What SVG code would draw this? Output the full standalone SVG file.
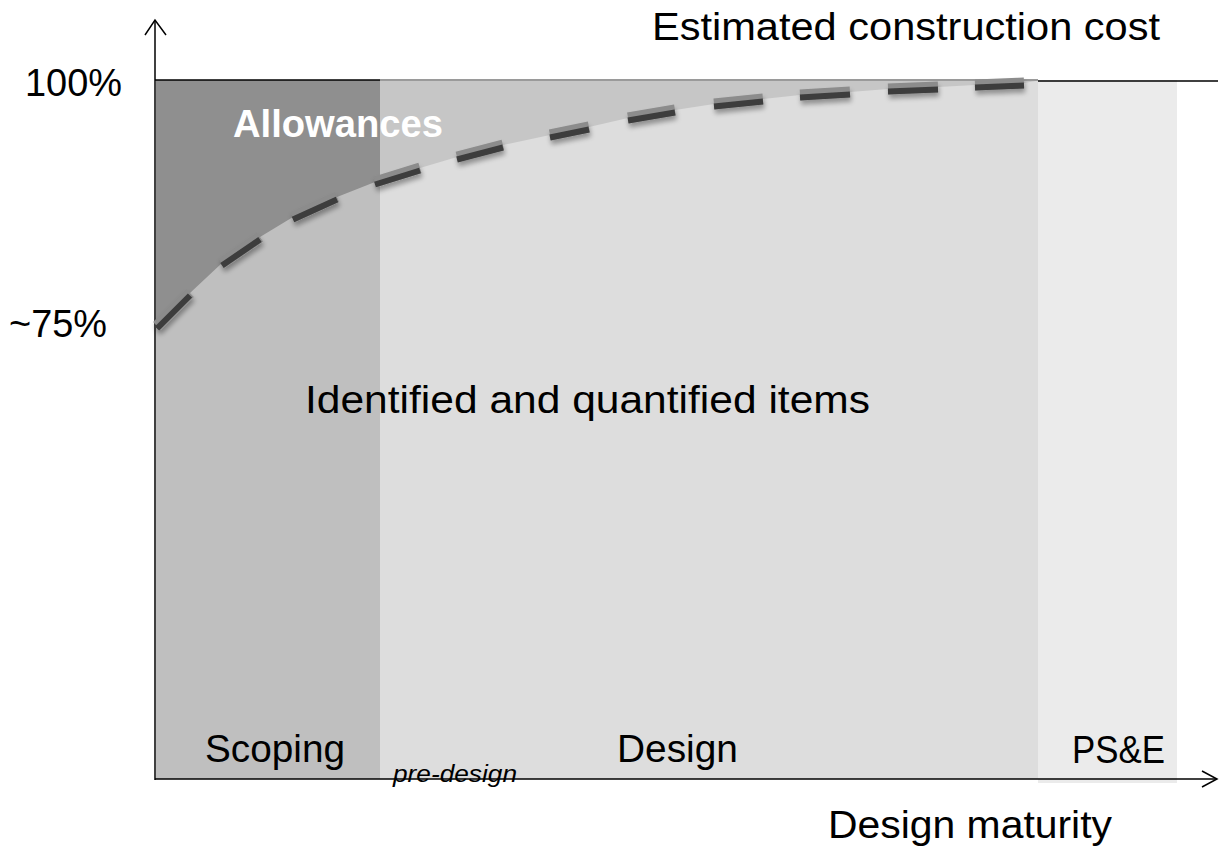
<svg xmlns="http://www.w3.org/2000/svg" width="1225" height="850" viewBox="0 0 1225 850">
  <defs>
    <style>
      .lbl { font-family: "Liberation Sans", Arial, sans-serif; font-size: 38px; fill: #000; }
      .bold { font-weight: bold; fill: #fff; }
      .ital { font-style: italic; font-size: 23px; }
      .axis { stroke: #000; stroke-width: 1.5; fill: none; }
      .arrow { stroke: #000; stroke-width: 1.5; fill: none; stroke-linejoin: miter; }
    </style>
    <filter id="shadow" x="-20%" y="-20%" width="140%" height="160%">
      <feGaussianBlur in="SourceAlpha" stdDeviation="2.5"/>
      <feOffset dx="1" dy="4" result="b"/>
      <feComponentTransfer><feFuncA type="linear" slope="0.35"/></feComponentTransfer>
      <feMerge><feMergeNode/><feMergeNode in="SourceGraphic"/></feMerge>
    </filter>
  </defs>
  <rect width="1225" height="850" fill="#fff"/>

  <g id="regions">
    <rect id="scoping" x="156" y="80" width="224" height="699" fill="#bfbfbf"/>
    <rect id="design" x="380" y="79" width="658" height="700" fill="#dddddd"/>
    <rect id="pse" x="1038" y="80" width="139" height="703" fill="#ebebeb"/>
    <polygon id="allow-scoping" fill="#8f8f8f" points="156,80 380,80 380,181 375,182 337,197 293,217 260,237 222,263 190,293 156,327"/>
    <polygon id="allow-design" fill="#c6c6c6" points="380,79 1038,79 1036,81 1024,83 975,85 938,87 888,89 850,92 800,95 763,99 714,104 675,110 628,118 589,127 550,135 503,145 457,157 420,168 380,181"/>
  </g>

  <g id="connectors">
    <line class="axis" x1="155" y1="80" x2="380" y2="80"/>
    <line x1="380" y1="80" x2="1038" y2="80" stroke="#9a9a9a" stroke-width="2"/>
    <line class="axis" x1="1038" y1="81" x2="1218" y2="81"/>
    <line class="axis" x1="155" y1="21" x2="155" y2="780"/>
    <polyline class="arrow" points="145,35 155,20 166,35"/>
    <line class="axis" x1="155" y1="779" x2="1216" y2="779"/>
    <polyline class="arrow" points="1202,771 1217,779 1202,787"/>
  </g>

  <g id="curve" filter="url(#shadow)" stroke-linecap="butt" fill="none">
    <path stroke="#8c8c8c" stroke-width="11" d="M157,326 L190,293 M222,263 L260,237 M293,217 L337,197 M375,182 L420,168 M457,157 L503,145 M550,135 L589,127 M628,118 L675,110 M714,104 L763,99 M800,95 L850,92 M888,89 L938,87 M975,85 L1024,83"/>
    <path stroke="#3d3d3d" stroke-width="6" transform="translate(0,2.5)" d="M157,326 L190,293 M222,263 L260,237 M293,217 L337,197 M375,182 L420,168 M457,157 L503,145 M550,135 L589,127 M628,118 L675,110 M714,104 L763,99 M800,95 L850,92 M888,89 L938,87 M975,85 L1024,83"/>
  </g>

  <g id="labels">
    <text class="lbl" x="652" y="40" textLength="508" lengthAdjust="spacingAndGlyphs">Estimated construction cost</text>
    <text class="lbl" x="25" y="96" textLength="97" lengthAdjust="spacingAndGlyphs">100%</text>
    <text class="lbl" x="9" y="337" textLength="98" lengthAdjust="spacingAndGlyphs">~75%</text>
    <text class="lbl bold" x="233" y="137" font-size="34" textLength="210" lengthAdjust="spacingAndGlyphs">Allowances</text>
    <text class="lbl" x="305" y="413" textLength="565" lengthAdjust="spacingAndGlyphs">Identified and quantified items</text>
    <text class="lbl" x="205" y="762" textLength="140" lengthAdjust="spacingAndGlyphs">Scoping</text>
    <text class="lbl" x="617" y="762" textLength="121" lengthAdjust="spacingAndGlyphs">Design</text>
    <text class="lbl" x="1072" y="763" textLength="93" lengthAdjust="spacingAndGlyphs">PS&amp;E</text>
    <text class="lbl ital" x="393" y="782" textLength="124" lengthAdjust="spacingAndGlyphs">pre-design</text>
    <text class="lbl" x="828" y="838" textLength="284" lengthAdjust="spacingAndGlyphs">Design maturity</text>
  </g>
</svg>
